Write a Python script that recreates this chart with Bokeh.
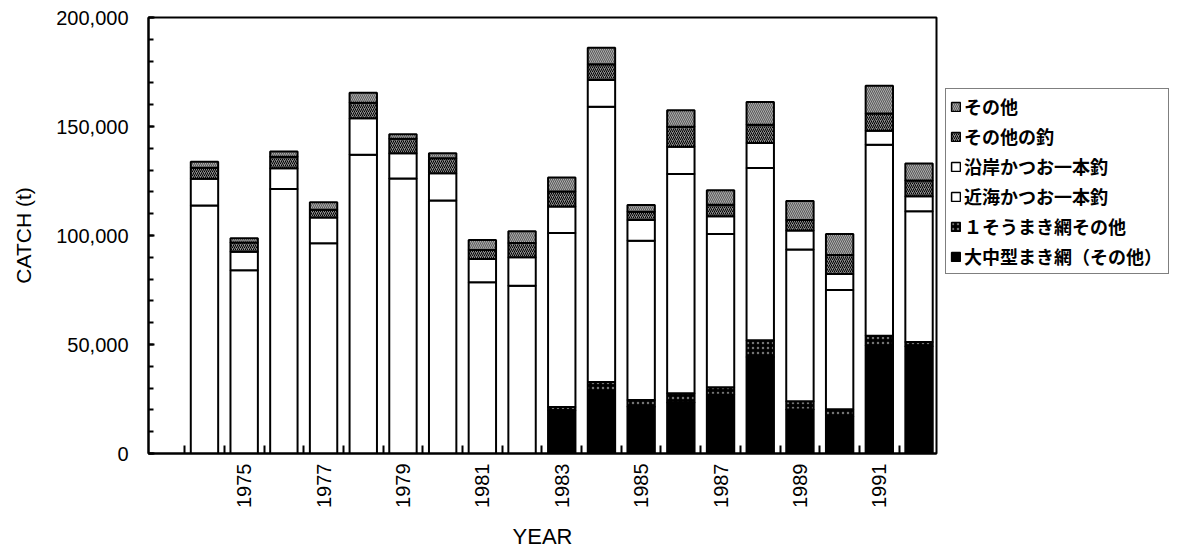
import math
from bokeh.plotting import figure
from bokeh.layouts import row
from bokeh.models import (ColumnDataSource, Range1d, FixedTicker, NumeralTickFormatter,
                          Legend, LegendItem, BasicTickFormatter)
from bokeh.transform import stack
from bokeh.embed import file_html
from bokeh.resources import INLINE

# ---- data (tonnes) ----
years = list(range(1974, 1993))
large_seine = [0, 0, 0, 0, 0, 0, 0, 0, 0,
               19800, 28700, 21500, 23400, 27000, 44300, 20200, 16900, 49400, 49200]
one_boat_seine = [0, 0, 0, 0, 0, 0, 0, 0, 0,
                  1500, 4100, 3000, 4200, 3400, 7600, 3800, 3400, 4600, 1900]
offshore_pole = [113800, 84100, 121300, 96500, 137000, 126100, 116000, 78500, 77000,
                 79800, 126300, 73100, 100600, 70300, 79100, 69600, 54700, 87600, 60000]
coastal_pole = [12200, 8400, 9600, 11800, 16800, 11600, 12500, 10700, 13000,
                12200, 12200, 9500, 12500, 8100, 11400, 8700, 7300, 6500, 6900]
other_angling = [5100, 4300, 5200, 3500, 7100, 6700, 6900, 4100, 6600,
                 6900, 7200, 3800, 9200, 5300, 8400, 4800, 8800, 7900, 7200]
others = [2700, 1900, 2400, 3500, 4600, 2000, 2300, 4600, 5300,
          6400, 7600, 3100, 7600, 6600, 10400, 8700, 9600, 12700, 7800]

series_keys = ["large_seine", "one_boat_seine", "offshore_pole",
               "coastal_pole", "other_angling", "others"]
series_labels = ["大中型まき網（その他）", "１そうまき網その他", "近海かつお一本釣",
                 "沿岸かつお一本釣", "その他の釣", "その他"]
x_tick_years = [1975, 1977, 1979, 1981, 1983, 1985, 1987, 1989, 1991]
y_ticks = [0, 50000, 100000, 150000, 200000]

data = dict(year=years, large_seine=large_seine, one_boat_seine=one_boat_seine,
            offshore_pole=offshore_pole, coastal_pole=coastal_pole,
            other_angling=other_angling, others=others)
source = ColumnDataSource(data)
# a tiny proxy bar hidden behind the legend box, so the legend panel has glyphs
proxy = {k: [0.02] for k in series_keys}
proxy["year"] = [0.5]
legend_source = ColumnDataSource(proxy)

styles = [
    dict(fill_color="black"),
    dict(fill_color="black", hatch_pattern="dot", hatch_color="white",
         hatch_scale=5, hatch_weight=1, hatch_alpha=0.45),
    dict(fill_color="white"),
    dict(fill_color="white"),
    dict(fill_color="#8c8c8c", hatch_pattern="right_diagonal_line", hatch_color="black",
         hatch_scale=4, hatch_weight=1),
    dict(fill_color="#5a5a5a", hatch_pattern="left_diagonal_line", hatch_color="white",
         hatch_scale=4, hatch_weight=1, hatch_alpha=0.5),
]

TOTAL_W, H = 1178, 558
MAIN_W = 940
TOP, BOTTOM = 17, 105

p = figure(width=MAIN_W, height=H, output_backend="svg", toolbar_location=None,
           x_range=Range1d(1972.59, 1992.44), y_range=Range1d(0, 200000),
           min_border_left=148, min_border_right=4, min_border_top=TOP,
           min_border_bottom=BOTTOM, background_fill_color="white",
           border_fill_color="white")

renderers = []
for i, key in enumerate(series_keys):
    r = p.vbar(x="year", width=0.69, bottom=stack(*series_keys[:i]),
               top=stack(*series_keys[:i + 1]), source=source,
               line_color="black", line_width=2, **styles[i])
    renderers.append(r)

p.xgrid.visible = False
p.ygrid.visible = False
p.outline_line_color = "black"
p.outline_line_width = 2

# x axis
xa = p.xaxis[0]
xa.ticker = FixedTicker(ticks=x_tick_years,
                        minor_ticks=[y - 0.5 for y in years] + [1992.5])
xa.formatter = BasicTickFormatter(use_scientific=False)
xa.axis_line_width = 2
xa.major_tick_in = 0
xa.major_tick_out = 0
xa.minor_tick_in = 8
xa.minor_tick_out = 0
xa.minor_tick_line_width = 2
xa.major_label_orientation = math.pi / 2
xa.major_label_text_font = "Liberation Sans"
xa.major_label_text_font_size = "20px"
xa.major_label_text_color = "black"
xa.major_label_standoff = 10
xa.axis_label = "YEAR"
xa.axis_label_text_font = "Liberation Sans"
xa.axis_label_text_font_size = "22px"
xa.axis_label_text_font_style = "normal"
xa.axis_label_text_color = "black"
xa.axis_label_standoff = 13

# y axis
ya = p.yaxis[0]
ya.ticker = FixedTicker(ticks=y_ticks, minor_ticks=list(range(0, 200001, 10000)))
ya.formatter = NumeralTickFormatter(format="0,0")
ya.axis_line_width = 2
ya.major_tick_in = 6
ya.major_tick_out = 0
ya.major_tick_line_width = 2
ya.minor_tick_in = 5
ya.minor_tick_out = 0
ya.minor_tick_line_width = 2
ya.major_label_text_font = "Liberation Sans"
ya.major_label_text_font_size = "20px"
ya.major_label_text_color = "black"
ya.major_label_standoff = 20
ya.axis_label = "CATCH (t)"
ya.axis_label_text_font = "Liberation Sans"
ya.axis_label_text_font_size = "21px"
ya.axis_label_text_font_style = "normal"
ya.axis_label_text_color = "black"
ya.axis_label_standoff = 18

# legend panel (separate figure to the right of the plot box)
lp = figure(width=TOTAL_W - MAIN_W, height=H, output_backend="svg",
            toolbar_location=None, x_range=Range1d(0, 1), y_range=Range1d(-1.5, 0.5),
            x_axis_location=None, y_axis_location=None,
            min_border_left=0, min_border_right=0, min_border_top=TOP,
            min_border_bottom=BOTTOM, outline_line_color=None,
            background_fill_color="white", border_fill_color="white")
lp.grid.visible = False
legend_renderers = []
for i, key in enumerate(series_keys):
    r = lp.vbar(x="year", width=0.5, bottom=stack(*series_keys[:i]),
                top=stack(*series_keys[:i + 1]), source=legend_source,
                line_color="black", line_width=1.5, **styles[i])
    legend_renderers.append(r)

items = [LegendItem(label=lab, renderers=[r])
         for lab, r in reversed(list(zip(series_labels, legend_renderers)))]
legend = Legend(items=items, location=(5, 179), orientation="vertical",
                label_text_font="Noto Sans CJK JP", label_text_font_size="18px",
                label_text_font_style="bold", label_text_color="black",
                glyph_width=11, glyph_height=11, label_standoff=3,
                label_height=25, spacing=4, padding=4, margin=0,
                label_width=200, border_line_color="black", border_line_width=1.5,
                background_fill_color="white", background_fill_alpha=1.0)
lp.add_layout(legend)

layout = row(p, lp)
open("out.html", "w").write(file_html(layout, INLINE))
